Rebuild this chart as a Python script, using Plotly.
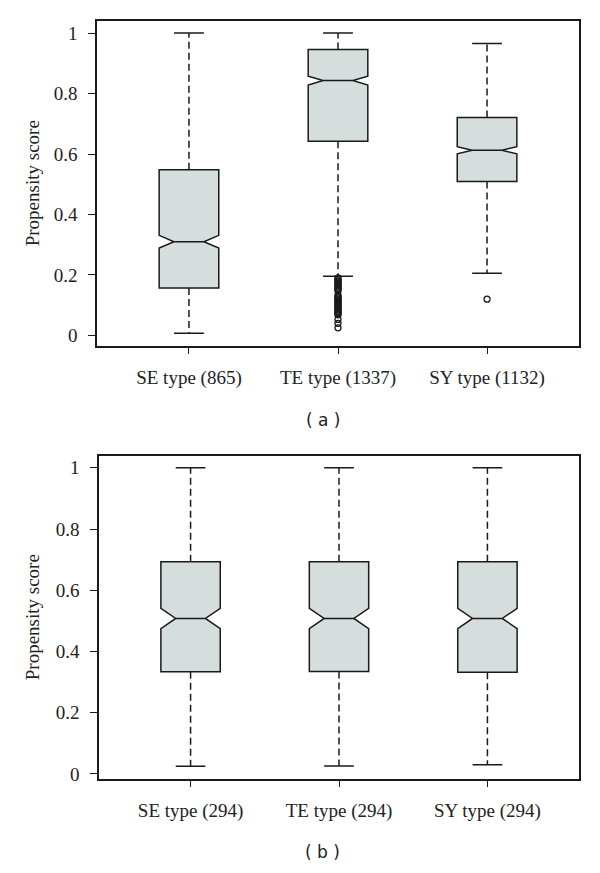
import plotly.graph_objects as go

# ---------------- data ----------------
positions = [1, 2, 3]

labels_a = ["SE type (865)", "TE type (1337)", "SY type (1132)"]
lower_a = [0.007, 0.196, 0.206]
q1_a = [0.157, 0.642, 0.509]
median_a = [0.310, 0.843, 0.6125]
q3_a = [0.548, 0.946, 0.721]
upper_a = [1.0, 1.0, 0.966]
notch_a = [0.021, 0.0145, 0.012]
outliers_te_a = [0.19, 0.185, 0.18, 0.176, 0.172, 0.168, 0.164, 0.16, 0.156, 0.152,
                 0.148, 0.133, 0.128, 0.124, 0.12, 0.116, 0.112, 0.108, 0.104, 0.1,
                 0.096, 0.092, 0.088, 0.084, 0.08, 0.076, 0.072, 0.068, 0.053, 0.04, 0.025]
outliers_sy_a = [0.12]

labels_b = ["SE type (294)", "TE type (294)", "SY type (294)"]
lower_b = [0.025, 0.026, 0.030]
q1_b = [0.334, 0.335, 0.332]
median_b = [0.508, 0.508, 0.508]
q3_b = [0.693, 0.693, 0.693]
upper_b = [1.0, 1.0, 1.0]
notch_b = [0.033, 0.033, 0.033]

yticks = [0, 0.2, 0.4, 0.6, 0.8, 1]
yticktext = ["0", "0.2", "0.4", "0.6", "0.8", "1"]

# ---------------- style ----------------
FILL = "#d5dddd"
INK = "#1a1a1a"
SERIF = "Liberation Serif"
BOXW = 0.4
CAPW = 0.1

# page body has an 8px default margin; figure sized so it fits the window
OFF = 8
W, H = 600 - OFF, 873 - OFF


def px(x):
    return (x - OFF) / W


def py(y):
    return 1 - (y - OFF) / H


fig = go.Figure()


def add_panel(xa, ya, lo, q1, med, q3, hi, notch):
    for i, p in enumerate(positions):
        fig.add_trace(go.Box(
            x=[p], q1=[q1[i]], median=[med[i]], q3=[q3[i]],
            lowerfence=[q1[i]], upperfence=[q3[i]], notchspan=[notch[i]],
            notched=True, notchwidth=0.25, width=BOXW, whiskerwidth=0,
            fillcolor=FILL, line=dict(color=INK, width=1.5),
            boxpoints=False, xaxis=xa, yaxis=ya, showlegend=False,
            hoverinfo="skip"))
        # dashed whiskers
        fig.add_trace(go.Scatter(
            x=[p, p, None, p, p], y=[q3[i], hi[i], None, q1[i], lo[i]],
            mode="lines", line=dict(color=INK, width=1.5, dash="7px,4px"),
            xaxis=xa, yaxis=ya, showlegend=False, hoverinfo="skip"))
        # caps
        fig.add_trace(go.Scatter(
            x=[p - CAPW, p + CAPW, None, p - CAPW, p + CAPW],
            y=[hi[i], hi[i], None, lo[i], lo[i]],
            mode="lines", line=dict(color=INK, width=1.5),
            xaxis=xa, yaxis=ya, showlegend=False, hoverinfo="skip"))


add_panel("x", "y", lower_a, q1_a, median_a, q3_a, upper_a, notch_a)
add_panel("x2", "y2", lower_b, q1_b, median_b, q3_b, upper_b, notch_b)

marker = dict(symbol="circle-open", size=6, color=INK, line=dict(width=1.3))
fig.add_trace(go.Scatter(x=[positions[1]] * len(outliers_te_a), y=outliers_te_a,
                         mode="markers", marker=marker, xaxis="x", yaxis="y",
                         showlegend=False, hoverinfo="skip"))
fig.add_trace(go.Scatter(x=[positions[2]] * len(outliers_sy_a), y=outliers_sy_a,
                         mode="markers", marker=marker, xaxis="x", yaxis="y",
                         showlegend=False, hoverinfo="skip"))

tickfont = dict(family=SERIF, size=19, color="#222")

common_x = dict(range=[0.383, 3.617], tickmode="array", tickvals=positions,
                showline=True, mirror=True, linecolor=INK, linewidth=1.5,
                ticks="outside", ticklen=7, tickwidth=1.3, tickcolor=INK,
                showgrid=False, zeroline=False, tickfont=tickfont,
                ticklabelstandoff=7)
common_y = dict(tickmode="array", tickvals=yticks, ticktext=yticktext,
                showline=True, mirror=True, linecolor=INK, linewidth=1.5,
                ticks="outside", ticklen=7, tickwidth=1.3, tickcolor=INK,
                showgrid=False, zeroline=False, tickfont=tickfont,
                ticklabelstandoff=7)

fig.update_layout(
    width=W, height=H,
    margin=dict(l=0, r=0, t=0, b=0),
    paper_bgcolor="white", plot_bgcolor="white",
    xaxis=dict(domain=[px(97), px(579)], ticktext=labels_a, anchor="y", **common_x),
    yaxis=dict(domain=[py(348), py(21)], range=[-0.0338, 1.0404], anchor="x", **common_y),
    xaxis2=dict(domain=[px(99), px(579)], ticktext=labels_b, anchor="y2", **common_x),
    yaxis2=dict(domain=[py(784), py(459)], range=[-0.0152, 1.039], anchor="x2", **common_y),
    boxmode="overlay",
)

ann_font = dict(family=SERIF, size=19, color="#222")
for yc in [(21 + 348) / 2, (459 + 784) / 2]:
    fig.add_annotation(text="Propensity score", xref="paper", yref="paper",
                       x=px(32), y=py(yc), xanchor="center", yanchor="middle",
                       textangle=-90, showarrow=False, font=ann_font)

lab_font = dict(family="DejaVu Sans", size=17, color="#222")
fig.add_annotation(text="( a )", xref="paper", yref="paper", x=px(323), y=py(423),
                   xanchor="center", yanchor="middle", showarrow=False, font=lab_font)
fig.add_annotation(text="( b )", xref="paper", yref="paper", x=px(322), y=py(858),
                   xanchor="center", yanchor="middle", showarrow=False, font=lab_font)

fig.write_html("out.html")
